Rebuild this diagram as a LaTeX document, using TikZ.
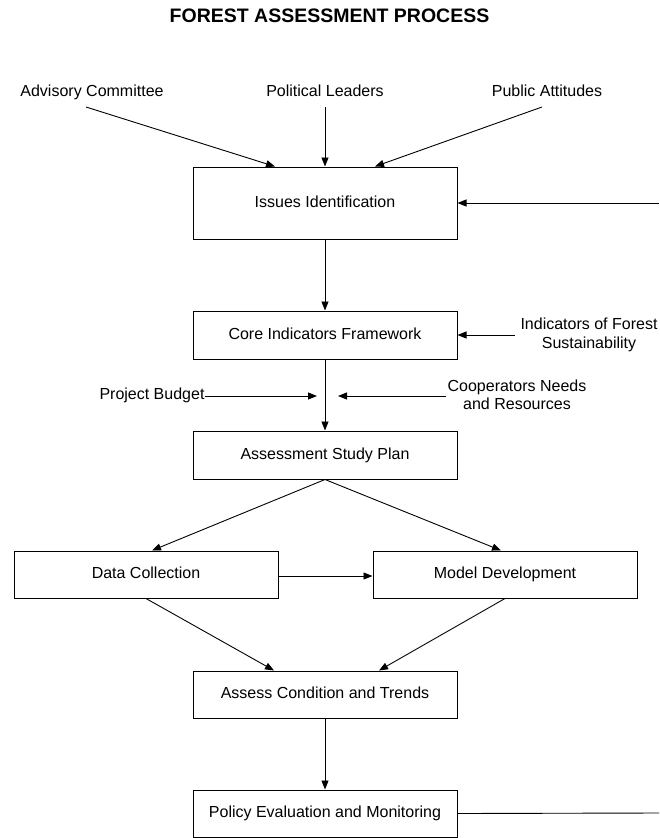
\documentclass[tikz,border=0pt]{standalone}
\usepackage{fontspec}
\setmainfont{Liberation Sans}
\usetikzlibrary{arrows.meta}

\begin{document}
\begin{tikzpicture}[x=1pt, y=-1pt,
    box/.style={draw, line width=1pt, minimum width=264pt, inner sep=0pt,
      text height=11.5pt, text depth=3.5pt, font=\fontsize{16}{18.5}\selectfont},
    lbl/.style={inner sep=0pt, align=center, font=\fontsize{16}{18.5}\selectfont},
    arr/.style={-{Triangle[length=9pt,width=7pt]}, line width=0.9pt},
    ln/.style={line width=0.9pt}]
    \useasboundingbox (0,0) rectangle (659,838);

    \node[anchor=base, inner sep=0pt, font=\fontsize{19.5}{22}\selectfont\bfseries]
      (title) at (329.5,22) {FOREST ASSESSMENT PROCESS};

    \node[lbl, anchor=base] (adv) at (92,96.5) {Advisory Committee};
    \node[lbl, anchor=base] (pol) at (325,96.5) {Political Leaders};
    \node[lbl, anchor=base] (pub) at (547,96.5) {Public Attitudes};
    \coordinate (advS) at (86,107);
    \coordinate (polS) at (325,107);
    \coordinate (pubS) at (542,107);

    \node[box, minimum height=72pt] (iss) at (325,203) {Issues Identification};
    \node[box, minimum height=48pt] (core) at (325,335) {Core Indicators Framework};
    \node[box, minimum height=48pt] (plan) at (325,455) {Assessment Study Plan};
    \node[box, minimum height=47pt] (data) at (146,574.5) {Data Collection};
    \node[box, minimum height=47pt] (model) at (505,574.5) {Model Development};
    \node[box, minimum height=47pt] (assess) at (325,694.5) {Assess Condition and Trends};
    \node[box, minimum height=47pt] (policy) at (325,813.5) {Policy Evaluation and Monitoring};

    \node[lbl] (ind) at (589,335) {Indicators of Forest\\Sustainability};
    \node[lbl] (bud) at (152,395) {Project Budget};
    \node[lbl] (coop) at (517,395) {Cooperators Needs\\and Resources};
    \coordinate (budTip) at (317,396);
    \coordinate (coopTip) at (338,396);
    \coordinate (fbIn) at (659,203);
    \coordinate (fbOut) at (659,813);

    % inputs to issues
    \draw[arr] (advS) -- ([xshift=-50pt]iss.north);
    \draw[arr] (polS) -- (iss.north);
    \draw[arr] (pubS) -- ([xshift=50pt]iss.north);
    \draw[arr] (fbIn) -- (iss.east);

    \draw[arr] (iss.south) -- (core.north);
    \draw[arr] ([xshift=-5.5pt]ind.west) -- (core.east);
    \draw[arr] (core.south) -- (plan.north);
    \draw[arr] (bud.east |- budTip) -- (budTip);
    \draw[arr] ([xshift=-1pt]coop.west |- coopTip) -- (coopTip);

    % study plan branches
    \draw[arr] (plan.south) -- ([xshift=6pt]data.north);
    \draw[arr] (plan.south) -- ([xshift=-4pt]model.north);
    \draw[arr] ([yshift=-1.5pt]data.east) -- ([yshift=-1.5pt]model.west);
    \draw[arr] (data.south) -- ([xshift=-51pt]assess.north);
    \draw[arr] (model.south) -- ([xshift=54pt]assess.north);

    \draw[arr] (assess.south) -- (policy.north);
    \draw[ln] (policy.east) -- (fbOut);
\end{tikzpicture}
\end{document}
